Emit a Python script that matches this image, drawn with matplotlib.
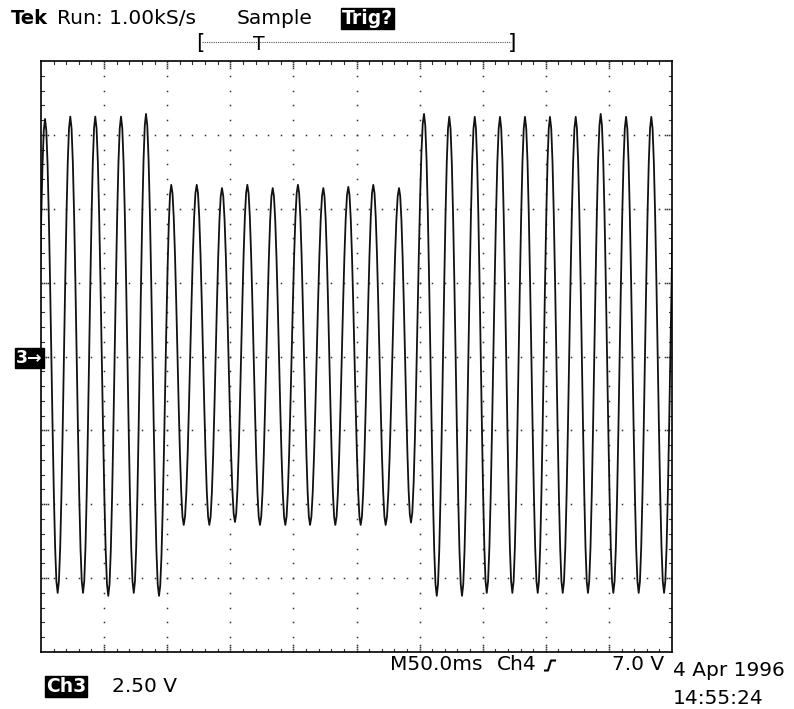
import numpy as np
import matplotlib
matplotlib.use("Agg")
import matplotlib.pyplot as plt
from matplotlib.lines import Line2D

# ---- data (time in ms, voltage in V) ----
peak_t = [3.2, 23.2, 43.0, 63.4, 83.2, 103.2, 123.4, 143.4, 163.5, 183.6, 203.6, 223.7,
          243.5, 263.3, 283.7, 303.5, 323.5, 343.7, 363.7, 383.5, 403.3, 423.7, 443.5,
          463.6, 483.6, 503.7]
peak_v = [8.04, 8.12, 8.12, 8.12, 8.21, 5.81, 5.81, 5.70, 5.81, 5.70, 5.81, 5.70,
          5.74, 5.81, 5.70, 8.21, 8.11, 8.11, 8.11, 8.11, 8.11, 8.11, 8.21,
          8.11, 8.11, 8.11]
trough_t = [-6.8, 13.2, 33.3, 53.3, 73.5, 93.5, 113.1, 133.4, 153.7, 173.5, 193.6, 213.2,
            233.2, 253.3, 273.1, 293.2, 313.6, 333.6, 353.2, 373.5, 393.6, 413.4,
            433.4, 453.5, 473.6, 493.7]
trough_v = [-8.00, -8.00, -8.00, -8.10, -8.00, -8.10, -5.70, -5.70, -5.60, -5.70, -5.70, -5.70,
            -5.70, -5.70, -5.70, -5.62, -8.10, -8.10, -8.00, -8.00, -8.00, -8.00,
            -8.00, -8.00, -8.00, -8.00]

time_per_div = 50.0   # ms
volts_per_div = 2.5   # V
n_xdiv, n_ydiv = 10, 8

header_left = "Run: 1.00kS/s"
acq_mode = "Sample"
trig_state = "Trig?"
ch_label = "Ch3"
ch_scale = "2.50 V"
timebase = "M50.0ms"
trig_src = "Ch4"
trig_level = "7.0 V"
date_str = "4 Apr 1996"
time_str = "14:55:24"

W, H = 794, 709
fig = plt.figure(figsize=(W / 100, H / 100), dpi=100)
fig.patch.set_facecolor("white")

L, T, R, B = 41, 61, 672, 652
ax = fig.add_axes([L / W, 1 - B / H, (R - L) / W, (B - T) / H])
xmax = n_xdiv * time_per_div
ymax = n_ydiv / 2 * volts_per_div
ax.set_xlim(0, xmax)
ax.set_ylim(-ymax, ymax)
ax.set_xticks([])
ax.set_yticks([])
for s in ax.spines.values():
    s.set_linewidth(1.2)
    s.set_color("black")

pxx = xmax / (R - L)        # data units per pixel in x
pxy = 2 * ymax / (B - T)    # data units per pixel in y

# ---- graticule dots ----
xd = time_per_div
yd = volts_per_div
sub_x = np.arange(1, n_xdiv * 5) * xd / 5
sub_y = np.arange(1, n_ydiv * 5) * yd / 5 - ymax
dot = dict(ls="none", marker="s", ms=1.1, mew=0, color="#333333")
for k in range(1, n_xdiv):
    ax.plot(np.full_like(sub_y, k * xd), sub_y, **dot)
for k in range(1, n_ydiv):
    y = -ymax + k * yd
    ax.plot(sub_x, np.full_like(sub_x, y), **dot)

# border ticks (minor every 0.2 div, dotted major at each division)
for x in sub_x:
    major = abs((x / xd) - round(x / xd)) < 1e-6
    if major:
        for j in range(4):
            ax.plot([x], [ymax - (1 + 2 * j) * pxy], **dot)
            ax.plot([x], [-ymax + (1 + 2 * j) * pxy], **dot)
    else:
        ax.plot([x, x], [ymax, ymax - 3 * pxy], color="#333333", lw=0.8)
        ax.plot([x, x], [-ymax, -ymax + 3 * pxy], color="#333333", lw=0.8)
for y in sub_y:
    major = abs(((y + ymax) / yd) - round((y + ymax) / yd)) < 1e-6
    if major:
        for j in range(4):
            ax.plot([(1 + 2 * j) * pxx], [y], **dot)
            ax.plot([xmax - (1 + 2 * j) * pxx], [y], **dot)
    else:
        ax.plot([0, 3 * pxx], [y, y], color="#333333", lw=0.8)
        ax.plot([xmax, xmax - 3 * pxx], [y, y], color="#333333", lw=0.8)

# ---- trace through the read extrema ----
ext = sorted(list(zip(peak_t, peak_v)) + list(zip(trough_t, trough_v)))
tt, vv = [], []
for (t0, v0), (t1, v1) in zip(ext[:-1], ext[1:]):
    s = np.linspace(0, 1, 11)[:-1]
    tt.extend(t0 + (t1 - t0) * s)
    vv.extend(v0 + (v1 - v0) * (1 - np.cos(np.pi * s)) / 2)
tt.append(ext[-1][0]); vv.append(ext[-1][1])
ax.plot(tt, vv, color="#111111", lw=1.3, clip_on=True)


def fx(x):
    return x / W


def fy(y):
    return 1 - y / H


fs = 14.5
fam = "DejaVu Sans"
fig.text(fx(11), fy(24), "Tek", fontsize=fs - 0.5, fontweight="bold", family=fam, va="baseline")
fig.text(fx(57), fy(24), header_left, fontsize=fs, family=fam, va="baseline")
fig.text(fx(237), fy(24), acq_mode, fontsize=fs, family=fam, va="baseline")
fig.text(fx(342), fy(24), trig_state, fontsize=fs - 1, family=fam, va="baseline", color="white",
         fontweight="bold",
         bbox=dict(boxstyle="square,pad=0.05", fc="black", ec="black"))

# trigger position bar
fig.text(fx(196), fy(43), "[", fontsize=fs + 1, family=fam, va="center", ha="left")
fig.text(fx(516), fy(43), "]", fontsize=fs + 1, family=fam, va="center", ha="right")
fig.add_artist(Line2D([fx(202), fx(511)], [fy(42), fy(42)], color="#555555", lw=0.8,
                      ls=(0, (1, 1))))
fig.text(fx(259), fy(44), "T", fontsize=fs - 1, family=fam, va="center", ha="center")

# channel marker
fig.text(fx(16), fy(358), "3\u2192", fontsize=fs - 2, family=fam, va="center", ha="left",
         color="white", fontweight="bold",
         bbox=dict(boxstyle="square,pad=0.08", fc="black", ec="black"))

# bottom readouts
fig.text(fx(46), fy(692), ch_label, fontsize=fs - 1, family=fam, va="baseline", color="white",
         fontweight="bold",
         bbox=dict(boxstyle="square,pad=0.05", fc="black", ec="black"))
fig.text(fx(112), fy(692), ch_scale, fontsize=fs, family=fam, va="baseline")
fig.text(fx(390), fy(670), timebase, fontsize=fs, family=fam, va="baseline")
fig.text(fx(497), fy(670), trig_src, fontsize=fs, family=fam, va="baseline")
fig.add_artist(Line2D([fx(545), fx(548), fx(551), fx(555)],
                      [fy(670.5), fy(670.5), fy(660.5), fy(660.5)], color="black", lw=1.5))
fig.text(fx(664), fy(670), trig_level, fontsize=fs, family=fam, va="baseline", ha="right")
fig.text(fx(673), fy(676), date_str, fontsize=fs, family=fam, va="baseline")
fig.text(fx(673), fy(704), time_str, fontsize=fs, family=fam, va="baseline")

fig.savefig("out.png", dpi=100, facecolor="white")
